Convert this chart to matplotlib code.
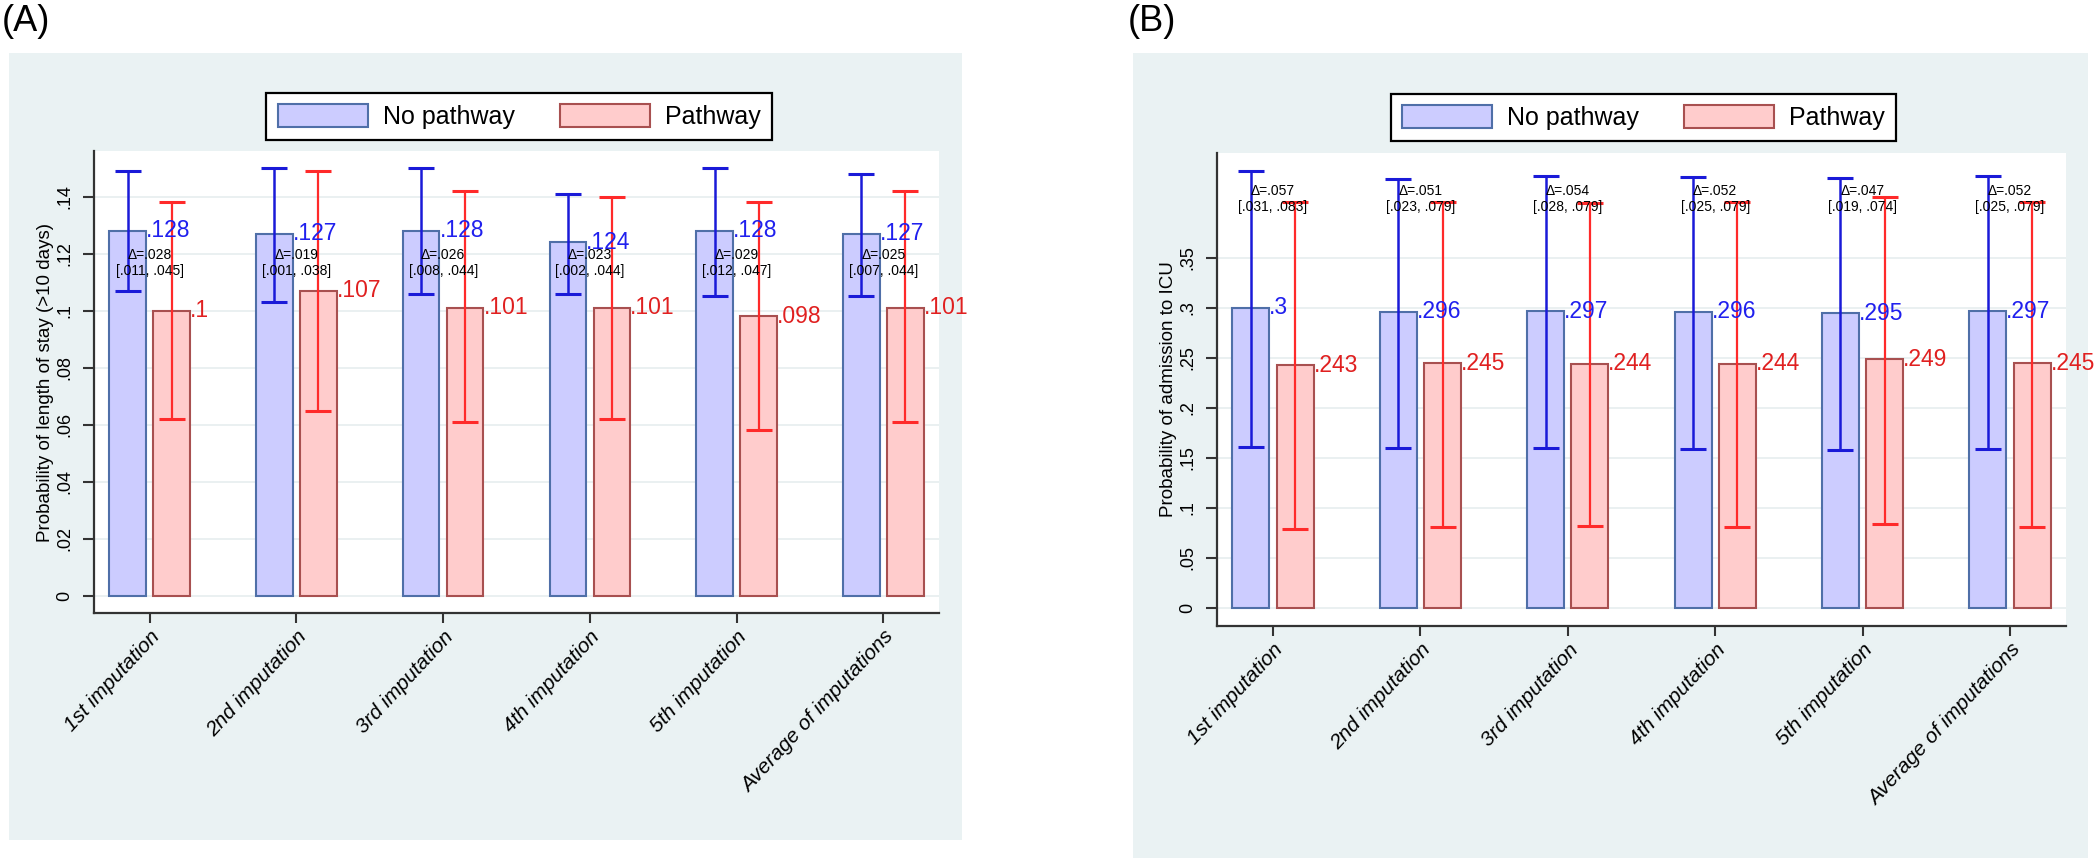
import numpy as np
import matplotlib.pyplot as plt
from matplotlib.patches import Rectangle, Patch

plt.rcParams['font.family'] = ['Liberation Sans', 'DejaVu Sans']
NARROW = ['Liberation Sans Narrow', 'Liberation Sans', 'DejaVu Sans']

categories = ['1st imputation', '2nd imputation', '3rd imputation',
              '4th imputation', '5th imputation', 'Average of imputations']

# (A) probability of length of stay > 10 days
los_nopath = [.128, .127, .128, .124, .128, .127]
los_nopath_lo = [.107, .103, .106, .106, .105, .105]
los_nopath_hi = [.149, .150, .150, .141, .150, .148]
los_path = [.100, .107, .101, .101, .098, .101]
los_path_lo = [.062, .065, .061, .062, .058, .061]
los_path_hi = [.138, .149, .142, .140, .138, .142]
los_delta = ['.028', '.019', '.026', '.023', '.029', '.025']
los_ci = ['[.011, .045]', '[.001, .038]', '[.008, .044]',
          '[.002, .044]', '[.012, .047]', '[.007, .044]']
los_yticks = [0, .02, .04, .06, .08, .1, .12, .14]
los_yticklabels = ['0', '.02', '.04', '.06', '.08', '.1', '.12', '.14']

# (B) probability of admission to ICU
icu_nopath = [.300, .296, .297, .296, .295, .297]
icu_nopath_lo = [.161, .160, .160, .159, .158, .159]
icu_nopath_hi = [.437, .429, .432, .431, .430, .432]
icu_path = [.243, .245, .244, .244, .249, .245]
icu_path_lo = [.079, .081, .082, .081, .084, .081]
icu_path_hi = [.406, .406, .405, .406, .411, .406]
icu_delta = ['.057', '.051', '.054', '.052', '.047', '.052']
icu_ci = ['[.031, .083]', '[.023, .079]', '[.028, .079]',
          '[.025, .079]', '[.019, .074]', '[.025, .079]']
icu_yticks = [0, .05, .1, .15, .2, .25, .3, .35]
icu_yticklabels = ['0', '.05', '.1', '.15', '.2', '.25', '.3', '.35']

W, H = 2096, 863
BG = '#eaf2f3'
BLUE_FILL, BLUE_EDGE, BLUE_LINE = '#ccccff', '#4f6fa8', '#1a1ad8'
RED_FILL, RED_EDGE, RED_LINE = '#ffcccc', '#a85050', '#ff2a2a'
AXCOL = '#333333'


def fig_rect(x0, y0, x1, y1):
    # pixel box (top-left origin) -> figure fraction
    return [x0 / W, 1 - y1 / H, (x1 - x0) / W, (y1 - y0) / H]


def stata_num(v):
    return f'{v:.3f}'.rstrip('0').lstrip('0')


def panel(fig, bg_px, ax_px, legend_px, letter, letter_px,
          nopath, nopath_lo, nopath_hi, path, path_lo, path_hi,
          delta, ci, delta_y, yticks, yticklabels, ylim, ylabel):
    x0, y0, x1, y1 = bg_px
    fig.add_artist(Rectangle((x0 / W, 1 - y1 / H), (x1 - x0) / W, (y1 - y0) / H,
                             transform=fig.transFigure, facecolor=BG,
                             edgecolor='none', zorder=0))
    fig.text(letter_px[0] / W, 1 - letter_px[1] / H, letter, fontsize=26,
             ha='left', va='top')

    ax = fig.add_axes(fig_rect(*ax_px))
    ax.set_facecolor('white')
    x = np.arange(len(categories))
    w, off = 0.25, 0.15
    nopath, path = np.array(nopath), np.array(path)

    ax.bar(x - off, nopath, w, color=BLUE_FILL, edgecolor=BLUE_EDGE, lw=1.5, zorder=2)
    ax.bar(x + off, path, w, color=RED_FILL, edgecolor=RED_EDGE, lw=1.5, zorder=2)
    ax.errorbar(x - off, nopath,
                yerr=[nopath - np.array(nopath_lo), np.array(nopath_hi) - nopath],
                fmt='none', ecolor=BLUE_LINE, elinewidth=1.8, capsize=9.5,
                capthick=2.2, zorder=3)
    ax.errorbar(x + off, path,
                yerr=[path - np.array(path_lo), np.array(path_hi) - path],
                fmt='none', ecolor=RED_LINE, elinewidth=1.6, capsize=9.5,
                capthick=2.2, zorder=3)

    for xi, v in zip(x, nopath):
        ax.text(xi - off + w / 2, v, stata_num(v), color='#2020ee', fontsize=16.5,
                family=NARROW, ha='left', va='center', zorder=4)
    for xi, v in zip(x, path):
        ax.text(xi + off + w / 2, v, stata_num(v), color='#e02020', fontsize=16.5,
                family=NARROW, ha='left', va='center', zorder=4)
    for xi, d, c in zip(x, delta, ci):
        ax.text(xi, delta_y, f'\u0394={d}\n{c}', fontsize=10, family=NARROW,
                ha='center', va='center', linespacing=1.15, zorder=5)

    ax.set_xlim(-0.38, len(categories) - 1 + 0.38)
    ax.set_ylim(*ylim)
    ax.set_xticks(x)
    ax.set_xticklabels(categories, rotation=47, ha='right', va='top',
                       rotation_mode='anchor', fontsize=15, style='italic')
    ax.set_yticks(yticks)
    ax.set_yticklabels(yticklabels, rotation=90, va='center', fontsize=13)
    ax.tick_params(axis='y', length=8, width=1.5, color=AXCOL, pad=7)
    ax.tick_params(axis='x', length=7, width=1.5, color=AXCOL, pad=3)
    for s in ('top', 'right'):
        ax.spines[s].set_visible(False)
    for s in ('left', 'bottom'):
        ax.spines[s].set_color(AXCOL)
        ax.spines[s].set_linewidth(1.6)
    ax.grid(axis='y', color='#e6eeef', lw=1.2, zorder=0)
    ax.set_axisbelow(True)
    ax.set_ylabel(ylabel, fontsize=13.5)
    ax.yaxis.set_label_coords(-0.047, 0.5)

    handles = [Patch(facecolor=BLUE_FILL, edgecolor=BLUE_EDGE, lw=1.5, label='No pathway'),
               Patch(facecolor=RED_FILL, edgecolor=RED_EDGE, lw=1.5, label='Pathway')]
    lx, ly = legend_px
    leg = ax.legend(handles=handles, ncol=2, loc='center',
                    bbox_to_anchor=(lx / W, 1 - ly / H),
                    bbox_transform=fig.transFigure, frameon=True, fancybox=False,
                    edgecolor='black', facecolor='white', framealpha=1,
                    prop=dict(family=NARROW, size=18), handlelength=3.6,
                    handleheight=1.05, handletextpad=0.6, columnspacing=1.8,
                    borderpad=0.45)
    leg.get_frame().set_linewidth(1.6)
    return ax


fig = plt.figure(figsize=(W / 100, H / 100), dpi=100)

panel(fig, (9, 53, 962, 840), (94, 151, 939, 613), (519, 116.5), '(A)', (2, 4),
      los_nopath, los_nopath_lo, los_nopath_hi, los_path, los_path_lo, los_path_hi,
      los_delta, los_ci, 0.1168, los_yticks, los_yticklabels, (-0.006, 0.156),
      'Probability of length of stay (>10 days)')

panel(fig, (1133, 53, 2088, 858), (1217, 153, 2066, 626), (1643.5, 117.5), '(B)', (1128, 4),
      icu_nopath, icu_nopath_lo, icu_nopath_hi, icu_path, icu_path_lo, icu_path_hi,
      icu_delta, icu_ci, 0.409, icu_yticks, icu_yticklabels, (-0.018, 0.455),
      'Probability of admission to ICU')

fig.savefig('out.png', dpi=100, facecolor='white')
